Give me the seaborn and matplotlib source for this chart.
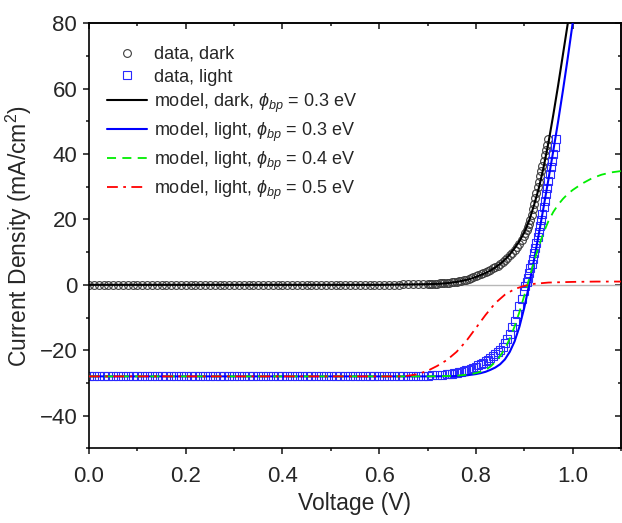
import numpy as np
import pandas as pd
import matplotlib
matplotlib.use("Agg")
import matplotlib.pyplot as plt
from matplotlib.ticker import MultipleLocator
import seaborn as sns

# ---------------- data ----------------
# measured dark J-V (circles)
v_dark = [0.00, 0.01, 0.02, 0.03, 0.04, 0.05, 0.06, 0.07, 0.08, 0.09,
          0.10, 0.11, 0.12, 0.13, 0.14, 0.15, 0.16, 0.17, 0.18, 0.19,
          0.20, 0.21, 0.22, 0.23, 0.24, 0.25, 0.26, 0.27, 0.28, 0.29,
          0.30, 0.31, 0.32, 0.33, 0.34, 0.35, 0.36, 0.37, 0.38, 0.39,
          0.40, 0.41, 0.42, 0.43, 0.44, 0.45, 0.46, 0.47, 0.48, 0.49,
          0.50, 0.51, 0.52, 0.53, 0.54, 0.55, 0.56, 0.57, 0.58, 0.59,
          0.60, 0.61, 0.62, 0.63, 0.64, 0.65, 0.66, 0.67, 0.68, 0.69,
          0.700, 0.705, 0.710, 0.715, 0.720, 0.725, 0.730, 0.735, 0.740, 0.745,
          0.750, 0.755, 0.760, 0.765, 0.770, 0.775, 0.780, 0.785, 0.790, 0.795,
          0.800, 0.805, 0.810, 0.815, 0.820, 0.825, 0.830, 0.835, 0.840, 0.845,
          0.850, 0.855, 0.860, 0.865, 0.870, 0.875, 0.880, 0.885, 0.890, 0.895,
          0.9000, 0.9025, 0.9050, 0.9075, 0.9100, 0.9125, 0.9150, 0.9175, 0.9200, 0.9225,
          0.9250, 0.9275, 0.9300, 0.9325, 0.9350, 0.9375, 0.9400, 0.9425, 0.9450, 0.9475,
          0.9500]
j_dark = [0.0, 0.0, 0.0, 0.0, 0.0, 0.0, 0.0, 0.0, 0.0, 0.0,
          0.0, 0.0, 0.0, 0.0, 0.0, 0.0, 0.0, 0.0, 0.0, 0.0,
          0.0, 0.0, 0.0, 0.0, 0.0, 0.0, 0.0, 0.0, 0.0, 0.0,
          0.0, 0.0, 0.0, 0.0, 0.0, 0.0, 0.0, 0.0, 0.0, 0.0,
          0.0, 0.0, 0.0, 0.0, 0.0, 0.0, 0.0, 0.0, 0.0, 0.0,
          0.0, 0.0, 0.0, 0.0, 0.0, 0.0, 0.0, 0.0, 0.0, 0.0,
          0.0, 0.1, 0.1, 0.1, 0.1, 0.2, 0.2, 0.2, 0.3, 0.3,
          0.3, 0.35, 0.35, 0.4, 0.4, 0.45, 0.5, 0.55, 0.6, 0.7,
          0.8, 0.9, 1.0, 1.15, 1.3, 1.45, 1.6, 1.85, 2.1, 2.35,
          2.6, 2.9, 3.2, 3.55, 3.9, 4.25, 4.6, 5.0, 5.4, 5.9,
          6.4, 7.0, 7.6, 8.3, 9.0, 9.8, 10.6, 11.6, 12.6, 13.8,
          15.0, 15.8, 16.7, 17.6, 18.5, 19.8, 21.4, 23.1, 24.8, 26.5,
          28.2, 29.9, 31.6, 33.2, 34.8, 36.4, 38.0, 39.6, 41.2, 42.9,
          44.6]

# measured light J-V (squares)
v_light = [0.00, 0.01, 0.02, 0.03, 0.04, 0.05, 0.06, 0.07, 0.08, 0.09,
           0.10, 0.11, 0.12, 0.13, 0.14, 0.15, 0.16, 0.17, 0.18, 0.19,
           0.20, 0.21, 0.22, 0.23, 0.24, 0.25, 0.26, 0.27, 0.28, 0.29,
           0.30, 0.31, 0.32, 0.33, 0.34, 0.35, 0.36, 0.37, 0.38, 0.39,
           0.40, 0.41, 0.42, 0.43, 0.44, 0.45, 0.46, 0.47, 0.48, 0.49,
           0.50, 0.51, 0.52, 0.53, 0.54, 0.55, 0.56, 0.57, 0.58, 0.59,
           0.60, 0.61, 0.62, 0.63, 0.64, 0.65, 0.66, 0.67, 0.68, 0.69,
           0.70, 0.71, 0.72, 0.73, 0.74,
           0.745, 0.750, 0.755, 0.760, 0.765, 0.770, 0.775, 0.780, 0.785, 0.790,
           0.795, 0.800, 0.805, 0.810, 0.815, 0.820, 0.825, 0.830, 0.835, 0.840,
           0.845, 0.850, 0.855, 0.860, 0.865, 0.870, 0.875, 0.880, 0.885, 0.890,
           0.895, 0.900,
           0.9025, 0.9050, 0.9075, 0.9100, 0.9125, 0.9150, 0.9175, 0.9200, 0.9225, 0.9250,
           0.9275, 0.9300, 0.9325, 0.9350, 0.9375, 0.9400, 0.9425, 0.9450, 0.9475, 0.9500,
           0.9525, 0.9550, 0.9575, 0.9600, 0.9625, 0.9650]
j_light = [-27.8, -27.8, -27.8, -27.8, -27.8, -27.8, -27.8, -27.8, -27.8, -27.8,
           -27.8, -27.8, -27.8, -27.8, -27.8, -27.8, -27.8, -27.8, -27.8, -27.8,
           -27.8, -27.8, -27.8, -27.8, -27.8, -27.8, -27.8, -27.8, -27.8, -27.8,
           -27.8, -27.8, -27.8, -27.8, -27.8, -27.8, -27.8, -27.8, -27.8, -27.8,
           -27.8, -27.8, -27.8, -27.8, -27.8, -27.8, -27.8, -27.8, -27.8, -27.8,
           -27.8, -27.8, -27.8, -27.8, -27.8, -27.8, -27.8, -27.8, -27.8, -27.8,
           -27.8, -27.8, -27.8, -27.8, -27.8, -27.8, -27.8, -27.8, -27.8, -27.8,
           -27.8, -27.7, -27.7, -27.6, -27.4,
           -27.3, -27.2, -27.1, -27.0, -26.8, -26.7, -26.5, -26.2, -26.0, -25.7,
           -25.4, -25.0, -24.6, -24.2, -23.8, -23.4, -22.9, -22.4, -21.9, -21.3,
           -20.6, -19.8, -18.9, -17.8, -16.5, -15.0, -13.0, -11.0, -8.8, -6.6,
           -4.2, -1.8,
           -0.5, 0.8, 2.2, 3.6, 5.0, 6.5, 8.0, 9.6, 11.2, 12.9,
           14.6, 16.3, 18.1, 19.9, 21.8, 23.7, 25.7, 27.7, 29.7, 31.7,
           33.8, 35.9, 38.0, 40.1, 42.3, 44.6]

# model curves
v_mdark = [0.00, 0.60, 0.70, 0.72, 0.74, 0.76, 0.77, 0.78, 0.79, 0.80, 0.81, 0.82,
           0.83, 0.84, 0.85, 0.86, 0.87, 0.88, 0.89, 0.90, 0.91, 0.92, 0.93,
           0.94, 0.95, 0.96, 0.97, 0.98, 0.99, 1.00]
j_mdark = [0.0, 0.0, 0.2, 0.3, 0.5, 0.9, 1.2, 1.5, 1.9, 2.4, 3.0, 3.6,
           4.4, 5.3, 6.4, 7.7, 9.3, 11.2, 13.4, 16.0, 19.6, 24.3, 29.5,
           36.0, 43.5, 52.0, 61.0, 70.5, 80.0, 89.5]

v_m03 = [0.00, 0.70, 0.74, 0.76, 0.78, 0.80, 0.81, 0.82, 0.83, 0.84, 0.85, 0.86,
         0.87, 0.88, 0.89, 0.90, 0.91, 0.92, 0.93, 0.94, 0.95, 0.96, 0.97,
         0.98, 0.99, 1.00, 1.01]
j_m03 = [-28.0, -28.0, -27.95, -27.9, -27.7, -27.3, -27.0, -26.6, -26.0, -25.3, -24.3, -22.8,
         -20.5, -17.3, -12.8, -7.0, 0.0, 7.5, 15.5, 23.8, 32.3, 41.0, 50.0,
         59.5, 69.5, 80.0, 90.0]

v_m04 = [0.00, 0.70, 0.74, 0.76, 0.78, 0.80, 0.81, 0.82, 0.83, 0.84, 0.85, 0.86,
         0.87, 0.88, 0.89, 0.90, 0.91, 0.92, 0.93, 0.94, 0.95, 0.96, 0.97,
         0.98, 0.99, 1.00, 1.02, 1.04, 1.06, 1.08, 1.10]
j_m04 = [-28.0, -28.0, -27.9, -27.8, -27.5, -27.0, -26.6, -26.0, -25.0, -23.6, -21.8, -19.5,
         -16.5, -12.7, -8.3, -3.3, 1.8, 7.0, 11.8, 16.0, 19.5, 22.3, 24.5,
         26.3, 27.8, 29.0, 31.0, 32.6, 33.7, 34.4, 34.8]

v_m05 = [0.00, 0.64, 0.66, 0.68, 0.70, 0.72, 0.74, 0.76, 0.78, 0.80, 0.82, 0.84,
         0.86, 0.88, 0.90, 0.92, 0.95, 1.00, 1.05, 1.10]
j_m05 = [-28.0, -28.0, -27.8, -27.3, -26.3, -24.8, -23.0, -20.5, -17.2, -13.2, -9.2, -5.6,
         -3.0, -1.3, -0.3, 0.3, 0.7, 0.9, 1.0, 1.0]

labels = ["data, dark", "data, light",
          r"model, dark, $\phi_{bp}$ = 0.3 eV",
          r"model, light, $\phi_{bp}$ = 0.3 eV",
          r"model, light, $\phi_{bp}$ = 0.4 eV",
          r"model, light, $\phi_{bp}$ = 0.5 eV"]

# ---------------- styling ----------------
sns.set_theme(style="ticks")
plt.rcParams["font.family"] = ["Liberation Sans", "DejaVu Sans"]
plt.rcParams["mathtext.fontset"] = "custom"
plt.rcParams["mathtext.rm"] = "Liberation Sans"
plt.rcParams["mathtext.it"] = "Liberation Sans:italic"
plt.rcParams["axes.unicode_minus"] = True

fig = plt.figure(figsize=(6.22, 5.23), dpi=100)
ax = fig.add_axes([89 / 622, 1 - 448.3 / 523, 532 / 622, 425 / 523])

ax.axhline(0, color="#b8b8b8", lw=1.0, zorder=0.5)

df_d = pd.DataFrame({"V": v_dark, "J": j_dark})
df_l = pd.DataFrame({"V": v_light, "J": j_light})

sns.lineplot(data=df_d, x="V", y="J", ax=ax, estimator=None, errorbar=None,
             linestyle="", marker="o", markersize=5.6, markerfacecolor="none",
             markeredgecolor="#3c3c3c", markeredgewidth=0.8, color="#3c3c3c",
             label=labels[0], zorder=2)
sns.lineplot(data=df_l, x="V", y="J", ax=ax, estimator=None, errorbar=None,
             linestyle="", marker="s", markersize=5.6, markerfacecolor="none",
             markeredgecolor="#2a2aff", markeredgewidth=0.8, color="#2a2aff",
             label=labels[1], zorder=2)

sns.lineplot(x=v_mdark, y=j_mdark, ax=ax, estimator=None, errorbar=None,
             color="black", lw=1.5, label=labels[2], zorder=3)
sns.lineplot(x=v_m03, y=j_m03, ax=ax, estimator=None, errorbar=None,
             color="#0000ff", lw=1.5, label=labels[3], zorder=3)
sns.lineplot(x=v_m04, y=j_m04, ax=ax, estimator=None, errorbar=None,
             color="#00ee00", lw=1.3, linestyle=(0, (5, 3.5)), label=labels[4], zorder=4)
sns.lineplot(x=v_m05, y=j_m05, ax=ax, estimator=None, errorbar=None,
             color="#ff0000", lw=1.3, linestyle=(0, (6, 3, 1.5, 3)), label=labels[5], zorder=4)

ax.set_xlim(0, 1.1)
ax.set_ylim(-50, 80)
ax.xaxis.set_major_locator(MultipleLocator(0.2))
ax.xaxis.set_minor_locator(MultipleLocator(0.1))
ax.yaxis.set_major_locator(MultipleLocator(20))
ax.yaxis.set_minor_locator(MultipleLocator(10))
ax.set_xticks([0.0, 0.2, 0.4, 0.6, 0.8, 1.0])
ax.set_xticklabels(["0.0", "0.2", "0.4", "0.6", "0.8", "1.0"])
ax.tick_params(which="major", direction="out", length=4.5, width=1.2, labelsize=16, pad=4)
ax.tick_params(which="minor", direction="out", length=2.5, width=1.2)
ax.tick_params(axis="x", which="major", pad=8)

for s in ax.spines.values():
    s.set_linewidth(1.2)
    s.set_color("black")
    s.set_visible(True)

secx = ax.secondary_xaxis("top")
secx.set_xticks([0.0, 0.2, 0.4, 0.6, 0.8, 1.0])
secx.xaxis.set_minor_locator(MultipleLocator(0.1))
secx.tick_params(which="major", direction="in", length=4.5, width=1.2, labeltop=False)
secx.tick_params(which="minor", direction="in", length=2.5, width=1.2)
secx.spines["top"].set_linewidth(1.2)

secy = ax.secondary_yaxis("right")
secy.set_yticks([-40, -20, 0, 20, 40, 60, 80])
secy.yaxis.set_minor_locator(MultipleLocator(10))
secy.tick_params(which="major", direction="in", length=4.5, width=1.2, labelright=False)
secy.tick_params(which="minor", direction="in", length=2.5, width=1.2)
secy.spines["right"].set_linewidth(1.2)

ax.set_xlabel("Voltage (V)", fontsize=16.5, labelpad=4)
ax.set_ylabel("Current Density (mA/cm$^2$)", fontsize=16.5, labelpad=4)

leg = ax.legend(loc="upper left", bbox_to_anchor=(0.034, 0.947), borderaxespad=0,
                borderpad=0, frameon=False, fontsize=13, handlelength=2.2,
                handletextpad=0.4, labelspacing=0.32, numpoints=1)

fig.savefig("out.png", dpi=100)
